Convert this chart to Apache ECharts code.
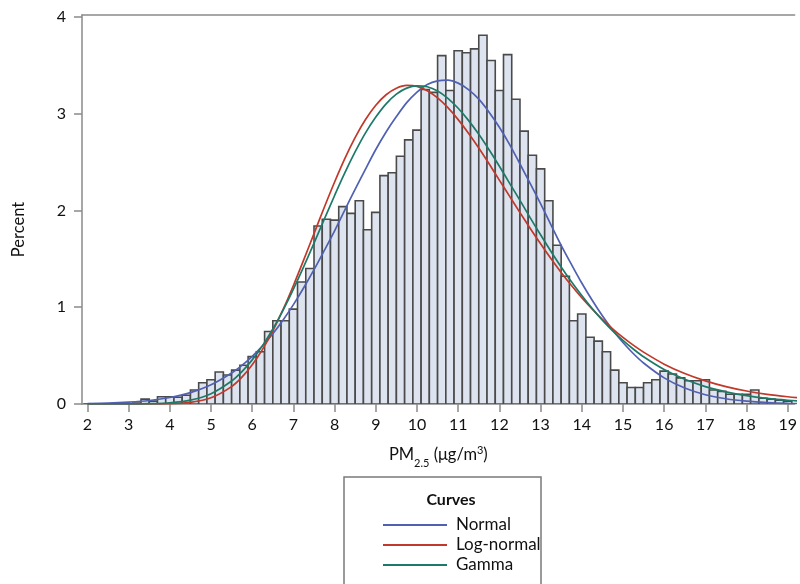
<!DOCTYPE html>
<html><head><meta charset="utf-8">
<script src="https://cdn.jsdelivr.net/npm/echarts@6/dist/echarts.min.js"></script>
<style>html,body{margin:0;padding:0;background:#fff}#c{width:800px;height:584px}</style>
</head><body><div id="c"></div>
<script>
// ---- data ----
const binCenters = [2.0,2.2,2.4,2.6,2.8,3.0,3.2,3.4,3.6,3.8,4.0,4.2,4.4,4.6,4.8,5.0,5.2,5.4,5.6,5.8,
  6.0,6.2,6.4,6.6,6.8,7.0,7.2,7.4,7.6,7.8,8.0,8.2,8.4,8.6,8.8,9.0,9.2,9.4,9.6,9.8,
  10.0,10.2,10.4,10.6,10.8,11.0,11.2,11.4,11.6,11.8,12.0,12.2,12.4,12.6,12.8,13.0,13.2,13.4,13.6,13.8,
  14.0,14.2,14.4,14.6,14.8,15.0,15.2,15.4,15.6,15.8,16.0,16.2,16.4,16.6,16.8,17.0,17.2,17.4,17.6,17.8,
  18.0,18.2,18.4,18.6,18.8,19.0];
const binPercent = [0,0,0,0,0,0,0.01,0.05,0.03,0.075,0.075,0.07,0.09,0.145,0.22,0.25,0.33,0.30,0.35,0.40,
  0.49,0.54,0.75,0.86,0.86,0.98,1.26,1.40,1.84,1.91,1.90,2.04,1.97,2.10,1.80,1.98,2.36,2.39,2.56,2.73,
  2.83,3.25,3.22,3.60,3.24,3.65,3.63,3.67,3.81,3.55,3.24,3.61,3.15,2.82,2.57,2.43,2.10,1.64,1.32,0.86,
  0.93,0.69,0.65,0.54,0.35,0.22,0.17,0.17,0.22,0.25,0.34,0.31,0.27,0.24,0.24,0.25,0.145,0.13,0.10,0.10,
  0.10,0.145,0.06,0.05,0.04,0.03];
const curveX = [2,2.5,3,3.5,4,4.5,5,
  5.5,5.75,6,6.25,6.5,6.75,7,7.25,7.5,7.75,8,8.25,8.5,8.75,9,9.25,9.5,9.75,10,10.25,10.5,10.75,
  11,11.25,11.5,11.75,12,12.25,12.5,12.75,13,13.25,13.5,13.75,14,14.25,14.5,14.75,15,15.25,15.5,
  16,16.5,17,17.5,18,18.5,19,19.5];
const normalCurve = [0.005,0.009,0.019,0.036,0.067,0.118,0.198,
  0.32,0.399,0.493,0.602,0.727,0.869,1.027,1.201,1.388,1.587,1.79,2.007,2.22,2.428,2.63,2.811,2.97,3.114,3.224,3.301,3.34,3.348,
  3.316,3.249,3.15,3.016,2.86,2.68,2.48,2.278,2.07,1.853,1.64,1.442,1.25,1.074,0.911,0.765,0.635,0.522,0.424,
  0.27,0.165,0.096,0.054,0.029,0.015,0.007,0.003];
const logNormalCurve = [0,0,0,0.0003,0.003,0.017,0.064,
  0.18,0.277,0.405,0.565,0.757,0.978,1.225,1.489,1.761,2.033,2.294,2.538,2.755,2.94,3.087,3.196,3.263,3.292,3.282,3.238,3.163,3.062,
  2.939,2.798,2.645,2.482,2.314,2.146,1.978,1.814,1.655,1.503,1.359,1.224,1.098,0.982,0.875,0.777,0.688,0.608,0.536,
  0.412,0.315,0.239,0.18,0.134,0.1,0.075,0.055];
const gammaCurve = [0,0,0.0005,0.003,0.012,0.04,0.107,
  0.238,0.335,0.456,0.603,0.775,0.971,1.188,1.42,1.663,1.91,2.155,2.39,2.607,2.802,2.965,3.102,3.202,3.264,3.288,3.279,3.235,3.159,
  3.056,2.931,2.787,2.627,2.457,2.28,2.104,1.923,1.749,1.579,1.416,1.263,1.121,0.988,0.867,0.756,0.657,0.568,0.488,
  0.356,0.255,0.18,0.126,0.086,0.058,0.039,0.026];
const xTickValues = [2,3,4,5,6,7,8,9,10,11,12,13,14,15,16,17,18,19];
const yTickValues = [0,1,2,3,4];
const seriesNames = ['Normal','Log-normal','Gamma'];
const binWidth = 0.2;

// ---- chart ----
const FONT = 'Lato';
const AX = '#8a8a8a';
const chart = echarts.init(document.getElementById('c'), null, {renderer:'canvas'});
const pair = (xs, ys) => xs.map((x, i) => [x, ys[i]]);
const lineSeries = (name, ys, color) => ({
  name, type:'line', data: pair(curveX, ys), smooth:0.3, showSymbol:false, symbol:'none',
  color, lineStyle:{color, width:1.7}, z:3, silent:true
});
chart.setOption({
  animation:false,
  backgroundColor:'#fff',
  textStyle:{fontFamily:FONT},
  grid:{left:82, right:0, top:15, bottom:180},
  xAxis:[{
    type:'value', min:1.8675, max:19.168,
    axisLine:{show:true, onZero:false, lineStyle:{color:AX, width:1.5}},
    axisTick:{show:true, customValues:xTickValues, length:8, lineStyle:{color:AX, width:1.5}},
    axisLabel:{customValues:xTickValues, margin:13, fontSize:16, color:'#111', fontFamily:FONT},
    splitLine:{show:false},
    name:'{a|PM}{s|2.5}{a| (μg/m}{p|3}{a|)}',
    nameLocation:'middle', nameGap:41,
    nameTextStyle:{rich:{
      a:{fontSize:16.5, color:'#111', fontFamily:FONT, lineHeight:20},
      s:{fontSize:11, color:'#111', fontFamily:FONT, lineHeight:20, verticalAlign:'bottom', padding:[0,0,-4,0]},
      p:{fontSize:11, color:'#111', fontFamily:FONT, lineHeight:20, verticalAlign:'top'}
    }}
  },{
    type:'value', position:'top', min:1.8675, max:19.168,
    axisLine:{show:true, onZero:false, lineStyle:{color:AX, width:1.5}},
    axisTick:{show:false}, axisLabel:{show:false}, splitLine:{show:false}
  }],
  yAxis:{
    type:'value', min:0, max:4.02,
    axisLine:{show:true, lineStyle:{color:AX, width:1.5}},
    axisTick:{show:true, customValues:yTickValues, length:8, lineStyle:{color:AX, width:1.5}},
    axisLabel:{customValues:yTickValues, margin:16, fontSize:16, color:'#111', fontFamily:FONT},
    splitLine:{show:false},
    name:'Percent', nameLocation:'middle', nameRotate:90, nameGap:55,
    nameTextStyle:{fontSize:16.5, color:'#111', fontFamily:FONT, padding:[0,40,0,0]}
  },
  legend:{
    data:seriesNames, orient:'vertical', left:383, top:515, padding:0,
    icon:'rect', itemWidth:64, itemHeight:2, itemGap:0,
    textStyle:{fontSize:17, color:'#111', fontFamily:FONT, lineHeight:20, padding:[0,0,0,4]},
    selectedMode:false
  },
  graphic:[
    {type:'rect', shape:{x:344, y:477, width:197, height:130}, style:{fill:'none', stroke:'#7a7a7a', lineWidth:1.5}, silent:true},
    {type:'text', x:451, y:500, style:{text:'Curves', fontSize:16, fontWeight:'bold', fontFamily:FONT, fill:'#111', align:'center', verticalAlign:'middle'}, silent:true}
  ],
  series:[
    {
      type:'custom', name:'Histogram', data: pair(binCenters, binPercent), z:1, silent:true, clip:true,
      renderItem:(params, api) => {
        const c = api.value(0), v = api.value(1);
        const p0 = api.coord([c - binWidth/2, v]);
        const p1 = api.coord([c + binWidth/2, 0]);
        return {type:'rect', shape:{x:p0[0], y:p0[1], width:p1[0]-p0[0], height:p1[1]-p0[1]},
          style:{fill:'#dde4ef', stroke:'#4a4a4a', lineWidth:1.6}};
      }
    },
    lineSeries('Normal', normalCurve, '#5060b2'),
    lineSeries('Log-normal', logNormalCurve, '#c0392b'),
    lineSeries('Gamma', gammaCurve, '#1e7a68')
  ]
});
</script></body></html>
